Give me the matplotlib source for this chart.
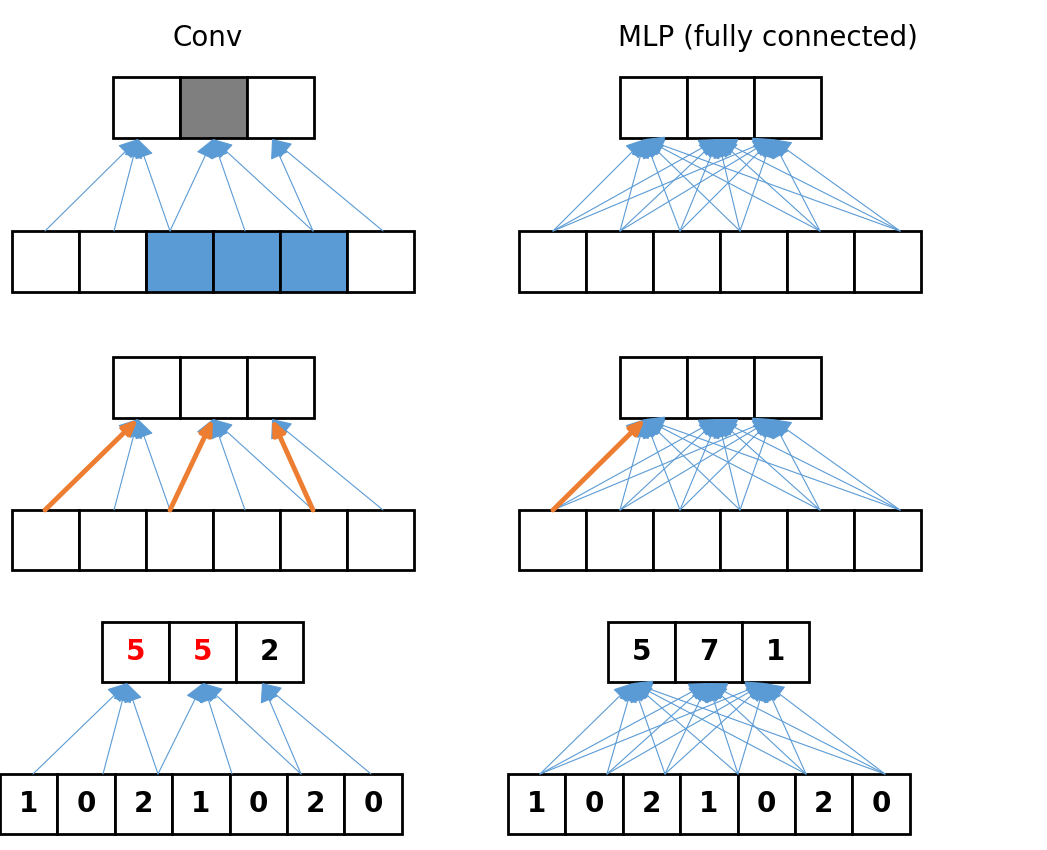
import matplotlib.pyplot as plt
from matplotlib.patches import Rectangle, FancyArrowPatch

BLUE = "#5b9bd5"
ORANGE = "#ed7d31"

titles = ["Conv", "MLP (fully connected)"]
input_values = ["1", "0", "2", "1", "0", "2", "0"]
conv_out_values = ["5", "5", "2"]
conv_out_colors = ["red", "red", "black"]
mlp_out_values = ["5", "7", "1"]

fig = plt.figure(figsize=(10.47, 8.5), dpi=100)
ax = fig.add_axes([0, 0, 1, 1])
ax.set_xlim(0, 1047)
ax.set_ylim(850, 0)
ax.axis("off")


def boxes(x0, y0, n, w, h, fills=None, texts=None, colors=None):
    for i in range(n):
        fc = fills[i] if fills else "white"
        ax.add_patch(Rectangle((x0 + i * w, y0), w, h, fc=fc, ec="black", lw=2, zorder=2))
        if texts:
            ax.text(x0 + i * w + w / 2, y0 + h / 2, texts[i], ha="center", va="center",
                    fontsize=20, fontweight="bold", color=colors[i] if colors else "black", zorder=3)


def arrow(p, q, color=BLUE, lw=0.8, head=10):
    ax.add_patch(FancyArrowPatch(p, q, arrowstyle=f"-|>,head_length={head/10:.1f},head_width={head/20:.1f}",
                                 mutation_scale=12, color=color, lw=lw, zorder=4, shrinkA=0, shrinkB=0))


ax.text(208, 38, titles[0], ha="center", va="center", fontsize=20, family="Calibri, DejaVu Sans".split(", ")[1])
ax.text(768, 38, titles[1], ha="center", va="center", fontsize=20)

# conv connections: out index -> input source indices
conv_links = [[0, 1, 2], [2, 3, 4], [4, 5]]

# ---- row 1 ----
boxes(113, 77, 3, 67, 61, fills=["white", "#7f7f7f", "white"])
boxes(12, 231, 6, 67, 61, fills=["white", "white", BLUE, BLUE, BLUE, "white"])
src = [45, 114, 170, 245, 313, 383]
tgt = [138, 213, 272]
for o, ins in enumerate(conv_links):
    for i in ins:
        arrow((src[i], 231), (tgt[o], 139))
boxes(620, 77, 3, 67, 61)
boxes(519, 231, 6, 67, 61)
msrc = [553, 620, 680, 740, 820, 900]
mtgt = [645, 718, 772]
for t in mtgt:
    for s in msrc:
        arrow((s, 231), (t, 139))

# ---- row 2 ----
boxes(113, 357, 3, 67, 61)
boxes(12, 510, 6, 67, 60)
for o, ins in enumerate(conv_links):
    for i in ins:
        arrow((src[i], 510), (tgt[o], 419))
for s, t in [(45, 138), (170, 213), (313, 272)]:
    arrow((s, 510), (t, 419), color=ORANGE, lw=3.5, head=7)
boxes(620, 357, 3, 67, 61)
boxes(519, 510, 6, 67, 60)
for t in mtgt:
    for s in msrc:
        arrow((s, 510), (t, 419))
arrow((553, 510), (645, 419), color=ORANGE, lw=3.5, head=7)

# ---- row 3 ----
boxes(102, 622, 3, 67, 60, texts=conv_out_values, colors=conv_out_colors)
boxes(0, 774, 7, 57.4, 60, texts=input_values)
src3 = [33, 103, 158, 232, 301, 371]
tgt3 = [127, 203, 262]
for o, ins in enumerate(conv_links):
    for i in ins:
        arrow((src3[i], 774), (tgt3[o], 683))
boxes(608, 622, 3, 67, 60, texts=mlp_out_values)
boxes(508, 774, 7, 57.4, 60, texts=input_values)
msrc3 = [540, 607, 665, 738, 806, 885]
mtgt3 = [633, 708, 765]
for t in mtgt3:
    for s in msrc3:
        arrow((s, 774), (t, 683))

fig.savefig("out.png", dpi=100)
